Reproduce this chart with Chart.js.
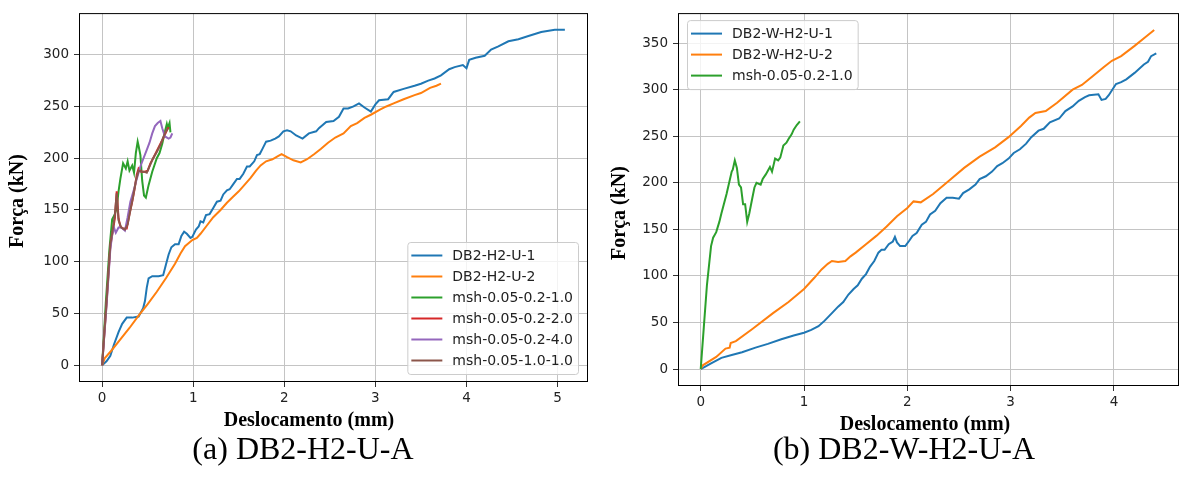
<!DOCTYPE html>
<html>
<head>
<meta charset="utf-8">
<script src="https://cdn.jsdelivr.net/npm/chart.js"></script>
<style>
  body { margin: 0; background: #fff; }
  #tudo { position: relative; width: 1180px; height: 477px; overflow: hidden; }
  canvas { position: absolute; top: 0; }
  .legenda { position: absolute; top: 430px; font-family: "Liberation Serif", serif; font-size: 32px; line-height: 36px; color: #000; white-space: nowrap; transform: translateX(-50%); }
</style>
</head>
<body>
<div id="tudo">
  <canvas id="grafA" width="592" height="435" style="left:0px"></canvas>
  <canvas id="grafB" width="585" height="435" style="left:595px"></canvas>
  <div class="legenda" style="left:303px">(a) DB2-H2-U-A</div>
  <div class="legenda" style="left:904px">(b) DB2-W-H2-U-A</div>
</div>
<script>
// ---- (a) DB2-H2-U-A ----
let dA1 = [0, 0.05, 0.09, 0.13, 0.18, 0.22, 0.27, 0.33, 0.40, 0.45, 0.47, 0.49, 0.51, 0.55, 0.62, 0.67, 0.70, 0.73, 0.76, 0.80, 0.84, 0.87, 0.90, 0.93, 0.97, 0.99, 1.03, 1.06, 1.08, 1.11, 1.14, 1.18, 1.22, 1.26, 1.30, 1.33, 1.37, 1.40, 1.44, 1.48, 1.51, 1.55, 1.59, 1.62, 1.67, 1.70, 1.73, 1.76, 1.80, 1.85, 1.90, 1.94, 1.99, 2.03, 2.07, 2.13, 2.20, 2.27, 2.35, 2.38, 2.46, 2.54, 2.60, 2.65, 2.70, 2.76, 2.82, 2.88, 2.95, 3.00, 3.04, 3.14, 3.20, 3.31, 3.43, 3.50, 3.58, 3.65, 3.72, 3.81, 3.87, 3.96, 4.00, 4.03, 4.10, 4.20, 4.27, 4.35, 4.46, 4.57, 4.68, 4.82, 4.97, 5.08]
let fA1 = [0, 4, 9, 20, 32, 40, 46, 46, 47, 55, 62, 75, 84, 86, 86, 87, 97, 107, 114, 117, 117, 125, 129, 127, 123, 124, 131, 134, 139, 138, 145, 146, 152, 158, 159, 165, 169, 170, 175, 180, 180, 185, 192, 192, 197, 203, 204, 209, 216, 217, 219, 221, 226, 227, 226, 222, 219, 224, 226, 229, 235, 236, 240, 248, 248, 250, 253, 249, 245, 252, 256, 257, 264, 267, 270, 272, 275, 277, 280, 286, 288, 290, 287, 295, 297, 299, 305, 308, 313, 315, 318, 322, 324, 324]

let dA2 = [0, 0.03, 0.1, 0.2, 0.3, 0.4, 0.5, 0.6, 0.7, 0.8, 0.86, 0.91, 0.99, 1.04, 1.08, 1.15, 1.22, 1.30, 1.37, 1.44, 1.50, 1.57, 1.63, 1.69, 1.74, 1.80, 1.87, 1.93, 1.97, 2.03, 2.10, 2.18, 2.25, 2.33, 2.40, 2.48, 2.56, 2.65, 2.73, 2.80, 2.88, 2.95, 3.05, 3.12, 3.20, 3.31, 3.43, 3.50, 3.60, 3.67, 3.72]
let fA2 = [0, 7, 14, 25, 36, 48, 59, 71, 84, 98, 108, 115, 121, 123, 127, 135, 143, 150, 157, 163, 168, 175, 181, 188, 193, 197, 199, 202, 204, 201, 198, 196, 199, 204, 209, 215, 220, 224, 231, 234, 239, 242, 247, 250, 253, 257, 261, 263, 268, 270, 272]

let dA3 = [0, 0.04, 0.08, 0.11, 0.14, 0.16, 0.18, 0.20, 0.23, 0.26, 0.28, 0.30, 0.33, 0.35, 0.37, 0.39, 0.40, 0.42, 0.44, 0.46, 0.48, 0.51, 0.55, 0.60, 0.63, 0.66, 0.69, 0.71, 0.72, 0.74, 0.75]
let fA3 = [0, 60, 112, 141, 146, 152, 168, 180, 195, 190, 197, 188, 193, 186, 205, 216, 212, 203, 178, 164, 162, 174, 187, 200, 205, 214, 226, 233, 229, 234, 225]

let dA4 = [0, 0.05, 0.09, 0.12, 0.14, 0.16, 0.18, 0.20, 0.23, 0.27, 0.30, 0.33, 0.36, 0.38, 0.40, 0.43, 0.47, 0.50, 0.53, 0.56, 0.60, 0.64, 0.68, 0.71, 0.73]
let fA4 = [0, 62, 115, 131, 142, 168, 142, 134, 132, 132, 146, 158, 172, 184, 190, 187, 187, 188, 195, 200, 207, 214, 221, 227, 230]

let dA5 = [0, 0.05, 0.09, 0.11, 0.13, 0.15, 0.18, 0.21, 0.25, 0.28, 0.31, 0.35, 0.38, 0.42, 0.45, 0.49, 0.52, 0.55, 0.58, 0.61, 0.64, 0.66, 0.69, 0.73, 0.75, 0.77]
let fA5 = [0, 60, 112, 126, 133, 128, 133, 133, 130, 143, 158, 170, 180, 192, 199, 208, 215, 224, 231, 234, 236, 229, 221, 219, 220, 224]

let dA6 = [0, 0.05, 0.09, 0.12, 0.14, 0.16, 0.18, 0.21, 0.25, 0.28, 0.31, 0.34, 0.37, 0.40, 0.43, 0.46, 0.49, 0.53, 0.56, 0.60, 0.64, 0.67, 0.70, 0.72]
let fA6 = [0, 64, 117, 133, 146, 166, 140, 133, 131, 136, 150, 163, 178, 188, 187, 187, 186, 194, 200, 206, 213, 220, 226, 229]

let nomesA = ['DB2-H2-U-1', 'DB2-H2-U-2', 'msh-0.05-0.2-1.0', 'msh-0.05-0.2-2.0', 'msh-0.05-0.2-4.0', 'msh-0.05-1.0-1.0']
let ticksXA = [0, 1, 2, 3, 4, 5]
let ticksYA = [0, 50, 100, 150, 200, 250, 300]

// ---- (b) DB2-W-H2-U-A ----
let dB1 = [0, 0.1, 0.2, 0.3, 0.4, 0.53, 0.65, 0.78, 0.9, 1.0, 1.07, 1.14, 1.2, 1.27, 1.33, 1.38, 1.43, 1.48, 1.52, 1.56, 1.6, 1.64, 1.68, 1.72, 1.75, 1.78, 1.82, 1.86, 1.88, 1.90, 1.93, 1.98, 2.02, 2.05, 2.09, 2.14, 2.18, 2.22, 2.27, 2.32, 2.38, 2.44, 2.5, 2.54, 2.6, 2.66, 2.7, 2.76, 2.82, 2.87, 2.92, 2.98, 3.03, 3.09, 3.15, 3.2, 3.27, 3.32, 3.38, 3.47, 3.53, 3.6, 3.66, 3.72, 3.76, 3.85, 3.88, 3.92, 3.95, 4.02, 4.07, 4.12, 4.2, 4.29, 4.33, 4.36, 4.41]
let fB1 = [0, 6, 12, 15, 18, 23, 27, 32, 36, 39, 42, 46, 52, 60, 67, 72, 80, 86, 90, 97, 102, 110, 116, 125, 128, 128, 134, 137, 142, 136, 132, 132, 138, 143, 146, 155, 158, 166, 170, 178, 184, 184, 183, 189, 193, 198, 204, 207, 212, 218, 221, 226, 232, 236, 242, 249, 256, 258, 265, 269, 277, 282, 288, 292, 294, 295, 289, 290, 294, 306, 308, 311, 318, 327, 330, 336, 339]

let dB2 = [0, 0.02, 0.15, 0.24, 0.28, 0.29, 0.34, 0.5, 0.7, 0.85, 1.0, 1.1, 1.17, 1.23, 1.27, 1.33, 1.4, 1.45, 1.5, 1.6, 1.7, 1.8, 1.9, 2.0, 2.06, 2.13, 2.25, 2.4, 2.55, 2.7, 2.85, 2.98, 3.1, 3.18, 3.24, 3.34, 3.45, 3.6, 3.69, 3.8, 3.9, 3.98, 4.07, 4.2, 4.3, 4.39]
let fB2 = [0, 4, 13, 22, 23, 28, 30, 43, 60, 72, 86, 98, 107, 113, 116, 115, 116, 121, 125, 134, 143, 153, 164, 173, 180, 179, 188, 202, 216, 228, 238, 249, 261, 270, 275, 277, 286, 300, 305, 315, 324, 331, 336, 347, 356, 364]

let dB3 = [0, 0.03, 0.06, 0.08, 0.1, 0.12, 0.15, 0.18, 0.2, 0.25, 0.3, 0.31, 0.33, 0.35, 0.37, 0.39, 0.41, 0.43, 0.45, 0.47, 0.5, 0.52, 0.54, 0.58, 0.6, 0.63, 0.67, 0.69, 0.72, 0.75, 0.77, 0.8, 0.83, 0.85, 0.88, 0.9, 0.93, 0.96]
let fB3 = [0, 45, 90, 111, 132, 141, 147, 158, 167, 188, 212, 214, 224, 216, 198, 195, 177, 177, 158, 167, 184, 195, 200, 198, 204, 209, 217, 212, 226, 224, 227, 240, 243, 247, 252, 257, 262, 266]

let nomesB = ['DB2-W-H2-U-1', 'DB2-W-H2-U-2', 'msh-0.05-0.2-1.0']
let ticksXB = [0, 1, 2, 3, 4]
let ticksYB = [0, 50, 100, 150, 200, 250, 300, 350]

let cores = ['#1f77b4', '#ff7f0e', '#2ca02c', '#d62728', '#9467bd', '#8c564b']

function pares(d, f) {
  return d.map((x, i) => ({x: x, y: f[i]}))
}

function series(nomes, listas) {
  return listas.map((l, i) => ({
    label: nomes[i],
    data: pares(l[0], l[1]),
    borderColor: cores[i],
    backgroundColor: cores[i],
    borderWidth: 2,
    pointRadius: 0,
    showLine: true,
    tension: 0,
    order: listas.length - i   // o ultimo fica por cima, como no matplotlib
  }))
}

// moldura preta, titulos dos eixos e legenda dentro do grafico
const extras = {
  id: 'extras',
  afterDatasetsDraw(chart, args, o) {
    const ctx = chart.ctx
    const a = chart.chartArea
    ctx.save()
    ctx.strokeStyle = '#000'
    ctx.lineWidth = 1
    ctx.strokeRect(a.left + 0.5, a.top + 0.5, a.right - a.left - 1, a.bottom - a.top - 1)

    ctx.fillStyle = '#000'
    ctx.font = 'bold 20px "Liberation Serif"'
    ctx.textAlign = 'center'
    ctx.textBaseline = 'middle'
    ctx.fillText(o.tituloX, o.posX[0], o.posX[1])
    ctx.save()
    ctx.translate(o.posY[0], o.posY[1])
    ctx.rotate(-Math.PI / 2)
    ctx.fillText(o.tituloY, 0, 0)
    ctx.restore()

    // legenda
    const ds = chart.data.datasets
    ctx.font = '14px "DejaVu Sans"'
    let maxw = 0
    ds.forEach(d => { maxw = Math.max(maxw, ctx.measureText(d.label).width) })
    const w = 4 + 31 + 10 + maxw + 5
    const h = ds.length * 21 + 6
    let x0, y0
    if (o.canto == 'baixo-direita') {
      x0 = a.right - 10 - w
      y0 = a.bottom - 8 - h
    } else {
      x0 = a.left + 9
      y0 = a.top + 7
    }
    ctx.beginPath()
    ctx.roundRect(x0 + 0.5, y0 + 0.5, w, h, 3)
    ctx.fillStyle = 'rgba(255,255,255,0.8)'
    ctx.fill()
    ctx.strokeStyle = '#cccccc'
    ctx.stroke()
    ds.forEach((d, i) => {
      const yy = y0 + 3 + 10.5 + i * 21
      ctx.strokeStyle = d.borderColor
      ctx.lineWidth = 2
      ctx.beginPath()
      ctx.moveTo(x0 + 4, yy)
      ctx.lineTo(x0 + 35, yy)
      ctx.stroke()
      ctx.fillStyle = '#222'
      ctx.textAlign = 'left'
      ctx.fillText(d.label, x0 + 45, yy + 1)
    })
    ctx.restore()
  }
}

function eixos(minX, maxX, minY, maxY, tx, ty, larguraY, alturaX) {
  const fonte = {family: 'DejaVu Sans', size: 13.5}
  const grade = {color: '#c4c4c4', lineWidth: 1, tickLength: 5, tickColor: '#333', drawTicks: true}
  return {
    x: {
      type: 'linear', min: minX, max: maxX,
      grid: grade, border: {display: false},
      ticks: {font: fonte, color: '#222', padding: 3, maxRotation: 0},
      afterBuildTicks: s => { s.ticks = tx.map(v => ({value: v})) },
      afterFit: s => { s.height = alturaX }
    },
    y: {
      type: 'linear', min: minY, max: maxY,
      grid: grade, border: {display: false},
      ticks: {font: fonte, color: '#222', padding: 5},
      afterBuildTicks: s => { s.ticks = ty.map(v => ({value: v})) },
      afterFit: s => { s.width = larguraY }
    }
  }
}

window.onload = function () {
  new Chart(document.getElementById('grafA'), {
    type: 'scatter',
    data: {datasets: series(nomesA, [[dA1, fA1], [dA2, fA2], [dA3, fA3], [dA4, fA4], [dA5, fA5], [dA6, fA6]])},
    options: {
      responsive: false, animation: false, devicePixelRatio: 1,
      layout: {padding: {top: 5, right: 4, left: 0, bottom: 0}},
      scales: eixos(-0.254, 5.334, -16.2, 340.2, ticksXA, ticksYA, 79, 53),
      plugins: {
        legend: {display: false}, tooltip: {enabled: false},
        extras: {tituloX: 'Deslocamento (mm)', tituloY: 'Força (kN)', posX: [309, 421], posY: [18, 201], canto: 'baixo-direita'}
      }
    },
    plugins: [extras]
  })

  new Chart(document.getElementById('grafB'), {
    type: 'scatter',
    data: {datasets: series(nomesB, [[dB1, fB1], [dB2, fB2], [dB3, fB3]])},
    options: {
      responsive: false, animation: false, devicePixelRatio: 1,
      layout: {padding: {top: 5, right: 1, left: 0, bottom: 0}},
      scales: eixos(-0.22, 4.63, -18.2, 382.2, ticksXB, ticksYB, 83, 49),
      plugins: {
        legend: {display: false}, tooltip: {enabled: false},
        extras: {tituloX: 'Deslocamento (mm)', tituloY: 'Força (kN)', posX: [330, 425], posY: [25, 213], canto: 'cima-esquerda'}
      }
    },
    plugins: [extras]
  })
}
</script>
</body>
</html>
